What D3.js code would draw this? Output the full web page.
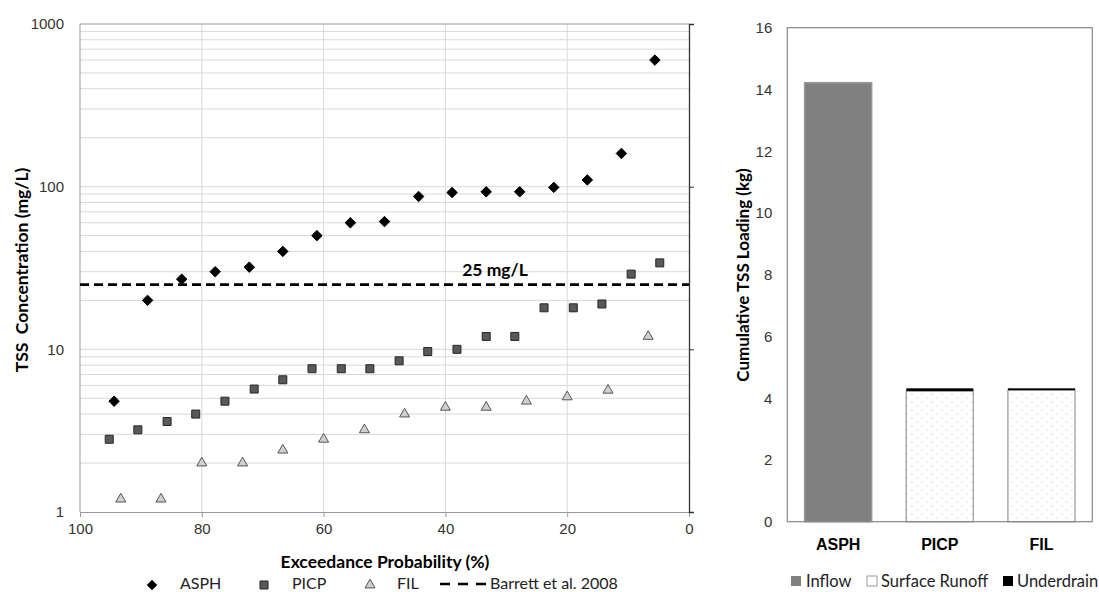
<!DOCTYPE html>
<html>
<head>
<meta charset="utf-8">
<script src="https://cdn.jsdelivr.net/npm/d3@7"></script>
<style>
  body { margin: 0; background: #fff; }
  svg { font-family: Lato, "Open Sans", sans-serif; }
</style>
</head>
<body>
<div id="chart"></div>
<script>
// exceedance probability (%) and TSS (mg/L)
var asphProb = [94.4, 88.9, 83.3, 77.8, 72.2, 66.7, 61.1, 55.6, 50.0, 44.4, 38.9, 33.3, 27.8, 22.2, 16.7, 11.1, 5.6];
var asphTss = [4.8, 20, 27, 30, 32, 40, 50, 60, 61, 87, 92, 93, 93, 99, 110, 160, 600];
var picpProb = [95.2, 90.5, 85.7, 81.0, 76.2, 71.4, 66.7, 61.9, 57.1, 52.4, 47.6, 42.9, 38.1, 33.3, 28.6, 23.8, 19.0, 14.3, 9.5, 4.8];
var picpTss = [2.8, 3.2, 3.6, 4.0, 4.8, 5.7, 6.5, 7.6, 7.6, 7.6, 8.5, 9.7, 10, 12, 12, 18, 18, 19, 29, 34];
var filProb = [93.3, 86.7, 80.0, 73.3, 66.7, 60.0, 53.3, 46.7, 40.0, 33.3, 26.7, 20.0, 13.3, 6.7];
var filTss = [1.2, 1.2, 2.0, 2.0, 2.4, 2.8, 3.2, 4.0, 4.4, 4.4, 4.8, 5.1, 5.6, 12];
var barrettLimit = 25;
var probTicks = [100, 80, 60, 40, 20, 0];
var tssTicks = [1, 10, 100, 1000];

// cumulative loading (kg), right panel
var sites = ['ASPH', 'PICP', 'FIL'];
var inflow = [14.22, 0, 0];
var surfaceRunoff = [0, 4.23, 4.26];
var underdrain = [0, 0.09, 0.06];
var loadTicks = [0, 2, 4, 6, 8, 10, 12, 14, 16];

var W = 1099, H = 592;
var svg = d3.select('#chart').append('svg').attr('width', W).attr('height', H);

var defs = svg.append('defs');
var pat = defs.append('pattern').attr('id', 'dots')
    .attr('patternUnits', 'userSpaceOnUse').attr('width', 10).attr('height', 8);
pat.append('rect').attr('width', 10).attr('height', 8).attr('fill', '#fff');
pat.append('circle').attr('cx', 2).attr('cy', 2).attr('r', 0.6).attr('fill', '#aaa');
pat.append('circle').attr('cx', 7).attr('cy', 6).attr('r', 0.6).attr('fill', '#aaa');

// ---------- left panel ----------
var x = d3.scaleLinear().domain([100, 0]).range([80, 689]);
var y = d3.scaleLog().domain([1, 1000]).range([512, 24]);

var grid = svg.append('g');
var minor = [];
[1, 10, 100].forEach(function(d) {
  for (var k = 2; k <= 9; k++) minor.push(d * k);
});
grid.selectAll('.hg').data(minor.concat([10, 100]))
    .enter().append('line')
    .attr('x1', 80).attr('x2', 689)
    .attr('y1', function(d) { return y(d); })
    .attr('y2', function(d) { return y(d); })
    .attr('stroke', '#d9d9d9').attr('stroke-width', 1);
grid.selectAll('.vg').data([80, 60, 40, 20])
    .enter().append('line')
    .attr('y1', 24).attr('y2', 512)
    .attr('x1', function(d) { return x(d); })
    .attr('x2', function(d) { return x(d); })
    .attr('stroke', '#d9d9d9').attr('stroke-width', 1);

// frame lines
svg.append('line').attr('x1', 80).attr('x2', 689).attr('y1', 24).attr('y2', 24).attr('stroke', '#999');
svg.append('line').attr('x1', 80).attr('x2', 80).attr('y1', 24).attr('y2', 512).attr('stroke', '#999');

var xAxis = svg.append('g').attr('transform', 'translate(0,512)')
    .call(d3.axisBottom(x).tickValues(probTicks).tickSize(5).tickPadding(6).tickFormat(d3.format('d')));
xAxis.select('.domain').attr('stroke', '#999');
xAxis.selectAll('.tick line').attr('stroke', '#999');
xAxis.selectAll('text').attr('font-size', 15).attr('fill', '#333');

var yAxisL = svg.append('g').attr('transform', 'translate(80,0)')
    .call(d3.axisLeft(y).tickValues(tssTicks).tickSize(0).tickPadding(16).tickFormat(d3.format('d')));
yAxisL.select('.domain').remove();
yAxisL.selectAll('text').attr('font-size', 15).attr('fill', '#333');

var yAxisR = svg.append('g').attr('transform', 'translate(689,0)')
    .call(d3.axisRight(y).tickValues(tssTicks).tickSize(5).tickFormat(''));
yAxisR.select('.domain').attr('stroke', '#333').attr('stroke-width', 1.3);
yAxisR.selectAll('.tick line').attr('stroke', '#333');

// Barrett et al. 2008 line
svg.append('line')
    .attr('x1', 80).attr('x2', 689)
    .attr('y1', y(barrettLimit)).attr('y2', y(barrettLimit))
    .attr('stroke', '#000').attr('stroke-width', 2.6).attr('stroke-dasharray', '9,5');
svg.append('text').attr('x', 495).attr('y', y(barrettLimit) - 9)
    .attr('text-anchor', 'middle').attr('font-size', 17.5).attr('font-weight', 'bold')
    .text('25 mg/L');

var diamond = d3.symbol().type(d3.symbolDiamond2).size(70);
var square = d3.symbol().type(d3.symbolSquare).size(64);
var triangle = d3.symbol().type(d3.symbolTriangle2).size(72);

function drawSeries(probs, vals, sym, fill, stroke) {
  svg.append('g').selectAll('path').data(vals)
      .enter().append('path')
      .attr('d', sym)
      .attr('transform', function(d, i) {
        return 'translate(' + x(probs[i]) + ',' + y(d) + ')';
      })
      .attr('fill', fill).attr('stroke', stroke).attr('stroke-width', 1);
}
drawSeries(filProb, filTss, triangle, '#d0d0d0', '#555');
drawSeries(picpProb, picpTss, square, '#595959', '#262626');
drawSeries(asphProb, asphTss, diamond, '#000', '#000');

svg.append('text').attr('x', 385).attr('y', 568).attr('text-anchor', 'middle')
    .attr('font-size', 17.5).attr('font-weight', 'bold').text('Exceedance Probability (%)');
svg.append('text').attr('transform', 'translate(28,270) rotate(-90)').attr('text-anchor', 'middle')
    .attr('font-size', 17.5).attr('font-weight', 'bold').attr('xml:space', 'preserve')
    .text('TSS  Concentration (mg/L)');

// legend left
var lg = svg.append('g').attr('font-size', 16).attr('fill', '#222');
lg.append('path').attr('d', diamond).attr('transform', 'translate(152,585)').attr('fill', '#000');
lg.append('text').attr('x', 180).attr('y', 589).text('ASPH');
lg.append('path').attr('d', square).attr('transform', 'translate(264,585)')
    .attr('fill', '#595959').attr('stroke', '#262626');
lg.append('text').attr('x', 292).attr('y', 589).text('PICP');
lg.append('path').attr('d', triangle).attr('transform', 'translate(370,585)')
    .attr('fill', '#d0d0d0').attr('stroke', '#555');
lg.append('text').attr('x', 397).attr('y', 589).text('FIL');
lg.append('line').attr('x1', 440).attr('x2', 486).attr('y1', 584).attr('y2', 584)
    .attr('stroke', '#000').attr('stroke-width', 2.6).attr('stroke-dasharray', '10,8');
lg.append('text').attr('x', 490).attr('y', 589).text('Barrett et al. 2008');

// ---------- right panel ----------
var xb = d3.scaleBand().domain(sites).range([787.3, 1092.3]).paddingInner(0.34).paddingOuter(0.17);
var yb = d3.scaleLinear().domain([0, 16]).range([521.7, 27.7]);

var stackData = sites.map(function(s, i) {
  return { site: s, inflow: inflow[i], runoff: surfaceRunoff[i], underdrain: underdrain[i] };
});
var series = d3.stack().keys(['inflow', 'runoff', 'underdrain'])(stackData);
var fills = { inflow: '#808080', runoff: 'url(#dots)', underdrain: '#000' };
var strokes = { inflow: '#9a9a9a', runoff: '#aaa', underdrain: '#000' };

series.forEach(function(s) {
  svg.append('g').selectAll('rect').data(s.filter(function(d) { return d[1] - d[0] > 0; }))
      .enter().append('rect')
      .attr('x', function(d) { return xb(d.data.site); })
      .attr('width', xb.bandwidth())
      .attr('y', function(d) { return yb(d[1]); })
      .attr('height', function(d) { return yb(d[0]) - yb(d[1]); })
      .attr('fill', fills[s.key])
      .attr('stroke', s.key == 'underdrain' ? 'none' : strokes[s.key])
      .attr('stroke-width', 1.5);
});

svg.append('rect').attr('x', 787.3).attr('y', 27.7).attr('width', 305).attr('height', 494)
    .attr('fill', 'none').attr('stroke', '#888').attr('stroke-width', 1.2);

var yAxisB = svg.append('g').attr('transform', 'translate(787.3,0)')
    .call(d3.axisLeft(yb).tickValues(loadTicks).tickSize(0).tickPadding(15));
yAxisB.select('.domain').remove();
yAxisB.selectAll('text').attr('font-size', 15).attr('fill', '#333');

var xAxisB = svg.append('g').attr('transform', 'translate(0,521.7)')
    .call(d3.axisBottom(xb).tickSize(0).tickPadding(17));
xAxisB.select('.domain').remove();
xAxisB.selectAll('text').attr('font-size', 16).attr('font-weight', 'bold').attr('fill', '#000');

svg.append('text').attr('transform', 'translate(749,275) rotate(-90)').attr('text-anchor', 'middle')
    .attr('font-size', 17).attr('font-weight', 'bold').text('Cumulative TSS Loading (kg)');

var lb = svg.append('g').attr('font-size', 16.5).attr('fill', '#222');
lb.append('rect').attr('x', 791).attr('y', 576).attr('width', 10).attr('height', 10).attr('fill', '#808080');
lb.append('text').attr('x', 806).attr('y', 587).text('Inflow');
lb.append('rect').attr('x', 867).attr('y', 576).attr('width', 10).attr('height', 10)
    .attr('fill', '#fff').attr('stroke', '#999');
lb.append('text').attr('x', 881).attr('y', 587).text('Surface Runoff');
lb.append('rect').attr('x', 1003).attr('y', 576).attr('width', 10).attr('height', 10).attr('fill', '#000');
lb.append('text').attr('x', 1017).attr('y', 587).text('Underdrain');
</script>
</body>
</html>
